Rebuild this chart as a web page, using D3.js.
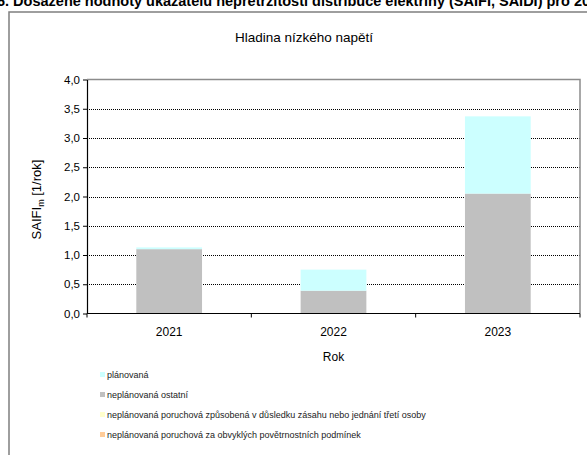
<!DOCTYPE html>
<html>
<head>
<meta charset="utf-8">
<script src="https://cdn.jsdelivr.net/npm/d3@7"></script>
<style>
  body { margin: 0; background: #fff; }
  svg { display: block; font-family: "Liberation Sans", Arial, sans-serif; }
</style>
</head>
<body>
<div id="chart"></div>
<script>
// values
const years = ['2021', '2022', '2023'];
const planovana = [0.03, 0.36, 1.32];
const neplOstatni = [1.10, 0.39, 2.05];
const neplTretiOsoby = [0, 0, 0];
const neplPocasi = [0, 0, 0];

const seriesNames = [
  'plánovaná',
  'neplánovaná ostatní',
  'neplánovaná poruchová způsobená v důsledku zásahu nebo jednání třetí osoby',
  'neplánovaná poruchová za obvyklých povětrnostních podmínek'
];
const seriesColors = ['#ccffff', '#c0c0c0', '#ffffcc', '#ffcc99'];
const yTicks = [0, 0.5, 1, 1.5, 2, 2.5, 3, 3.5, 4];

const W = 587, H = 455;
const margin = {left: 87, right: 7, top: 79.5, bottom: 141.5};

const rows = years.map((y, i) => ({
  year: y,
  pocasi: neplPocasi[i],
  treti: neplTretiOsoby[i],
  ostatni: neplOstatni[i],
  planovana: planovana[i]
}));
// bottom to top, as Excel stacks them
const keys = ['pocasi', 'treti', 'ostatni', 'planovana'];
const keyColor = {pocasi: seriesColors[3], treti: seriesColors[2], ostatni: seriesColors[1], planovana: seriesColors[0]};

const svg = d3.select('#chart').append('svg')
  .attr('width', W)
  .attr('height', H);

// caption cut off at the top of the page (as in the source picture)
svg.append('text')
  .attr('x', -3)
  .attr('y', 5.5)
  .attr('font-size', 14.5)
  .attr('font-weight', 'bold')
  .attr('fill', '#000')
  .text('6. Dosažené hodnoty ukazatelů nepřetržitosti distribuce elektřiny (SAIFI, SAIDI) pro 2023');

// outer chart box
svg.append('rect')
  .attr('x', 9).attr('y', 12)
  .attr('width', 600).attr('height', 460)
  .attr('fill', 'none')
  .attr('stroke', '#7f7f7f')
  .attr('stroke-width', 1.5);

svg.append('text')
  .attr('x', 304)
  .attr('y', 42)
  .attr('text-anchor', 'middle')
  .attr('font-size', 13.5)
  .attr('fill', '#000')
  .text('Hladina nízkého napětí');

const x = d3.scaleBand()
  .domain(years)
  .range([margin.left, W - margin.right])
  .paddingInner(0.6)
  .paddingOuter(0.3);

const y = d3.scaleLinear()
  .domain([0, 4])
  .range([H - margin.bottom, margin.top]);

const fmt = v => d3.format('.1f')(v).replace('.', ',');

// grid lines
svg.append('g')
  .selectAll('line')
  .data(yTicks.filter(t => t > 0 && t < 4))
  .enter().append('line')
  .attr('x1', margin.left).attr('x2', W - margin.right)
  .attr('y1', d => Math.round(y(d)) + 0.5).attr('y2', d => Math.round(y(d)) + 0.5)
  .attr('stroke', '#000')
  .attr('stroke-width', 1)
  .attr('stroke-dasharray', '1,1');

// plot area border (top and right)
svg.append('path')
  .attr('d', `M${margin.left},${y(4)}H${W - margin.right}V${y(0)}`)
  .attr('fill', 'none')
  .attr('stroke', '#8c8c8c')
  .attr('stroke-width', 1.5);

// stacked bars
const stacked = d3.stack().keys(keys)(rows);
svg.append('g')
  .selectAll('g')
  .data(stacked)
  .enter().append('g')
  .attr('fill', d => keyColor[d.key])
  .selectAll('rect')
  .data(d => d)
  .enter().append('rect')
  .attr('x', d => x(d.data.year))
  .attr('width', x.bandwidth())
  .attr('y', d => y(d[1]))
  .attr('height', d => y(d[0]) - y(d[1]));

// y axis
const yAxis = svg.append('g')
  .attr('transform', `translate(${margin.left},0)`)
  .call(d3.axisLeft(y).tickValues(yTicks).tickFormat(fmt).tickSize(4).tickSizeOuter(0));
yAxis.select('.domain').attr('stroke', '#000').attr('stroke-width', 1.2);
yAxis.selectAll('.tick text')
  .attr('font-size', 11.5)
  .attr('font-family', '"Liberation Sans", Arial, sans-serif')
  .attr('fill', '#000')
  .attr('x', -7);

// x axis: line plus ticks between categories
const xAxisY = y(0);
svg.append('line')
  .attr('x1', margin.left).attr('x2', W - margin.right)
  .attr('y1', xAxisY).attr('y2', xAxisY)
  .attr('stroke', '#000').attr('stroke-width', 1.2);
const boundaries = d3.range(years.length + 1)
  .map(i => margin.left + i * (W - margin.left - margin.right) / years.length);
svg.append('g')
  .selectAll('line')
  .data(boundaries)
  .enter().append('line')
  .attr('x1', d => d).attr('x2', d => d)
  .attr('y1', xAxisY).attr('y2', xAxisY + 4)
  .attr('stroke', '#000');
svg.append('g')
  .selectAll('text')
  .data(years)
  .enter().append('text')
  .attr('x', d => x(d) + x.bandwidth() / 2)
  .attr('y', xAxisY + 22)
  .attr('text-anchor', 'middle')
  .attr('font-size', 12)
  .text(d => d);

// axis titles
svg.append('text')
  .attr('x', (margin.left + W - margin.right) / 2)
  .attr('y', 361)
  .attr('text-anchor', 'middle')
  .attr('font-size', 12)
  .text('Rok');

const yLabel = svg.append('text')
  .attr('transform', `translate(41,${(y(0) + y(4)) / 2 + 3}) rotate(-90)`)
  .attr('text-anchor', 'middle')
  .attr('font-size', 13);
yLabel.append('tspan').text('SAIFI');
yLabel.append('tspan').attr('font-size', 9).attr('dy', 3).text('m');
yLabel.append('tspan').attr('dy', -3).text(' [1/rok]');

// legend
const legend = svg.append('g')
  .selectAll('g')
  .data(seriesNames)
  .enter().append('g')
  .attr('transform', (d, i) => `translate(100,${375 + i * 20})`);
legend.append('rect')
  .attr('x', 0).attr('y', -3)
  .attr('width', 5).attr('height', 5)
  .attr('fill', (d, i) => seriesColors[i]);
legend.append('text')
  .attr('x', 7)
  .attr('y', 3)
  .attr('font-size', 9)
  .attr('fill', '#222')
  .text(d => d);
</script>
</body>
</html>
